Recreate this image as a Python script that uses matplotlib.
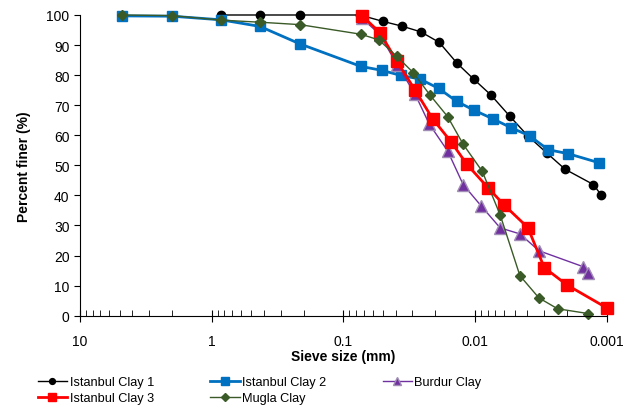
import numpy as np
import matplotlib.pyplot as plt
from matplotlib.ticker import FixedLocator, NullFormatter

plt.rcParams['font.family'] = ['Liberation Sans', 'DejaVu Sans']

# --- data (sieve size in mm, percent finer) ---
ic1_d = [0.85, 0.43, 0.214, 0.0748, 0.0503, 0.0359, 0.0258, 0.0187, 0.01365,
         0.01025, 0.00757, 0.00546, 0.00397, 0.00285, 0.00207, 0.00126, 0.0011]
ic1_p = [100, 100, 100, 100, 97.9, 96.3, 94.4, 90.9, 83.9,
         78.7, 73.4, 66.4, 59.8, 54.1, 48.7, 43.6, 40.1]

ic2_d = [4.82, 2.01, 0.85, 0.43, 0.214, 0.0735, 0.0512, 0.0365, 0.0262, 0.0189,
         0.0138, 0.01025, 0.00735, 0.00531, 0.00385, 0.00278, 0.00197, 0.00115]
ic2_p = [99.7, 99.6, 98.4, 96.2, 90.4, 82.9, 81.6, 79.9, 78.7, 75.6,
         71.3, 68.4, 65.5, 62.5, 59.8, 55.2, 53.9, 50.9]

ic3_d = [0.0722, 0.0527, 0.0392, 0.0286, 0.0210, 0.01524, 0.01151, 0.00798,
         0.00604, 0.00397, 0.00298, 0.00200, 0.00100]
ic3_p = [99.8, 94.1, 84.6, 75.1, 65.5, 57.9, 50.3, 42.6,
         36.9, 29.3, 16.0, 10.2, 2.6]

burdur_d = [0.0722, 0.0527, 0.0392, 0.0286, 0.0223, 0.0161, 0.0123, 0.00894,
            0.00644, 0.00456, 0.00327, 0.00151, 0.00138]
burdur_p = [98.9, 93.5, 83.5, 73.8, 63.8, 54.7, 43.6, 36.4,
            29.2, 27.2, 21.6, 16.3, 14.1]

mugla_d = [4.82, 2.01, 0.85, 0.43, 0.214, 0.0735, 0.0537, 0.0394, 0.0294,
           0.0220, 0.01614, 0.0123, 0.00881, 0.00644, 0.00456, 0.00327,
           0.00236, 0.00138]
mugla_p = [100, 99.8, 98.3, 97.6, 96.8, 93.6, 91.7, 86.3, 80.8,
           73.4, 66.2, 57.0, 48.0, 33.5, 13.3, 5.9, 2.3, 0.7]

x_ticks = [10, 1, 0.1, 0.01, 0.001]
x_labels = ['10', '1', '0.1', '0.01', '0.001']

fig = plt.figure(figsize=(6.27, 4.06), dpi=100)
ax = fig.add_axes([0.1276, 0.22, 0.84, 0.7406])

l1, = ax.plot(ic1_d, ic1_p, '-o', color='black', lw=1.0, ms=6,
              label='Istanbul Clay 1', clip_on=False)
l2, = ax.plot(ic2_d, ic2_p, '-s', color='#0070C0', lw=2.0, ms=7.5,
              label='Istanbul Clay 2', clip_on=False)
l5, = ax.plot(burdur_d, burdur_p, '-^', color='#7030A0', lw=1.0, ms=8,
              mec='#A08CB4', mew=1.0, label='Burdur Clay', clip_on=False)
l3, = ax.plot(ic3_d, ic3_p, '-s', color='#FF0000', lw=2.0, ms=8,
              label='Istanbul Clay 3', clip_on=False)
l4, = ax.plot(mugla_d, mugla_p, '-D', color='#3A5A27', lw=1.0, ms=5.5,
              label='Mugla Clay', clip_on=False)

ax.set_xscale('log')
ax.set_xlim(10, 0.001)
ax.set_ylim(0, 100)
ax.set_yticks(range(0, 101, 10))
ax.xaxis.set_major_locator(FixedLocator(x_ticks))
ax.set_xticklabels(x_labels)
minors = [m * 10.0 ** e for e in range(-3, 1) for m in range(2, 10)]
ax.xaxis.set_minor_locator(FixedLocator(minors))
ax.xaxis.set_minor_formatter(NullFormatter())

ax.spines['top'].set_visible(False)
ax.spines['right'].set_visible(False)
ax.tick_params(axis='x', which='major', direction='inout', length=8,
               labelsize=10, pad=9)
ax.tick_params(axis='x', which='minor', direction='in', length=4)
ax.tick_params(axis='y', direction='out', length=4, labelsize=10)

ax.set_xlabel('Sieve size (mm)', fontsize=10, fontweight='bold', labelpad=1)
ax.set_ylabel('Percent finer (%)', fontsize=10, fontweight='bold', labelpad=11)

fig.legend(handles=[l1, l3, l2, l4, l5], ncol=3, loc='upper left',
           bbox_to_anchor=(0.052, 0.083), frameon=False, fontsize=9.2,
           handlelength=2.3, handletextpad=0.2, columnspacing=4.4,
           labelspacing=0.3, borderaxespad=0, markerscale=0.7)

fig.savefig('out.png', dpi=100)
